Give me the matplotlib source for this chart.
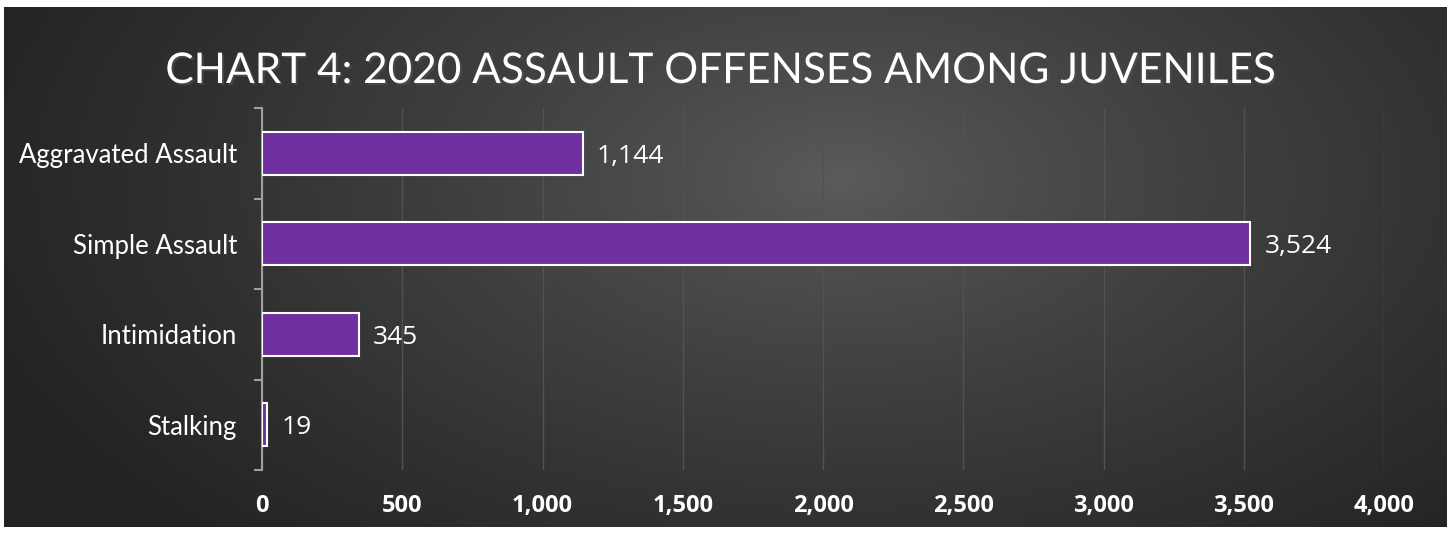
import numpy as np
import matplotlib
matplotlib.use("Agg")
import matplotlib.pyplot as plt
import matplotlib.patheffects as pe
from matplotlib.ticker import FuncFormatter

# data
categories = ['Aggravated Assault', 'Simple Assault', 'Intimidation', 'Stalking']
values = [1144, 3524, 345, 19]
title = 'CHART 4: 2020 ASSAULT OFFENSES AMONG JUVENILES'

W, H = 1447, 533
fig = plt.figure(figsize=(W / 100, H / 100), dpi=100)
fig.patch.set_facecolor('white')

# dark radial background panel
bg = fig.add_axes([4 / W, 1 - 527 / H, (W - 4) / W, (527 - 7) / H])
gx, gy = np.meshgrid(np.linspace(0, 1, 400), np.linspace(0, 1, 200))
r = np.sqrt(((gx - 0.58) / 0.62) ** 2 + ((gy - 0.33) / 0.95) ** 2)
r = np.clip(r, 0, 1)
shade = 0.36 - (0.36 - 0.14) * r ** 0.8
img = np.dstack([shade, shade, shade])
bg.imshow(img, aspect='auto', extent=[0, 1, 1, 0], interpolation='bilinear')
bg.axis('off')

# main chart
ax = fig.add_axes([262 / W, 1 - 470 / H, (1384 - 262) / W, (470 - 108) / H])
ax.set_facecolor('none')
ypos = np.arange(len(categories))
ax.barh(ypos, values, height=0.47, color='#7030A0', edgecolor='white',
        linewidth=1.5, zorder=3)
ax.set_xlim(0, 4000)
ax.set_ylim(3.5, -0.5)

ax.set_xticks(np.arange(0, 4001, 500))
ax.xaxis.set_major_formatter(FuncFormatter(lambda v, p: f'{int(v):,}'))
ax.grid(axis='x', color='#525252', linewidth=1, zorder=0)
ax.tick_params(axis='x', length=0, pad=17, labelcolor='white', labelsize=17)
for lab in ax.get_xticklabels():
    lab.set_fontfamily('Open Sans')
    lab.set_fontweight('bold')

ax.set_yticks(ypos)
ax.set_yticklabels(categories, fontfamily='Lato', fontsize=18.5, color='white')
ax.set_yticks(np.arange(-0.5, 4, 1), minor=True)
ax.tick_params(axis='y', which='major', length=0, pad=18)
ax.tick_params(axis='y', which='minor', length=6, width=1.5, color='#a0a0a0')

for s in ['top', 'right', 'bottom']:
    ax.spines[s].set_visible(False)
ax.spines['left'].set_color('#a0a0a0')
ax.spines['left'].set_linewidth(1.5)

for y, v in zip(ypos, values):
    ax.annotate(f'{v:,}', (v, y), xytext=(10, -2), textcoords='offset points',
                va='center', ha='left', color='white', fontsize=19,
                fontfamily='Open Sans', zorder=4)

fig.text(0.4985, 1 - 71 / H, title, ha='center', va='center', color='white',
         fontsize=30.5, fontfamily='Lato',
         path_effects=[pe.SimplePatchShadow(offset=(1.5, -1.5), alpha=0.7),
                       pe.Normal()])

fig.savefig('out.png', dpi=100)
